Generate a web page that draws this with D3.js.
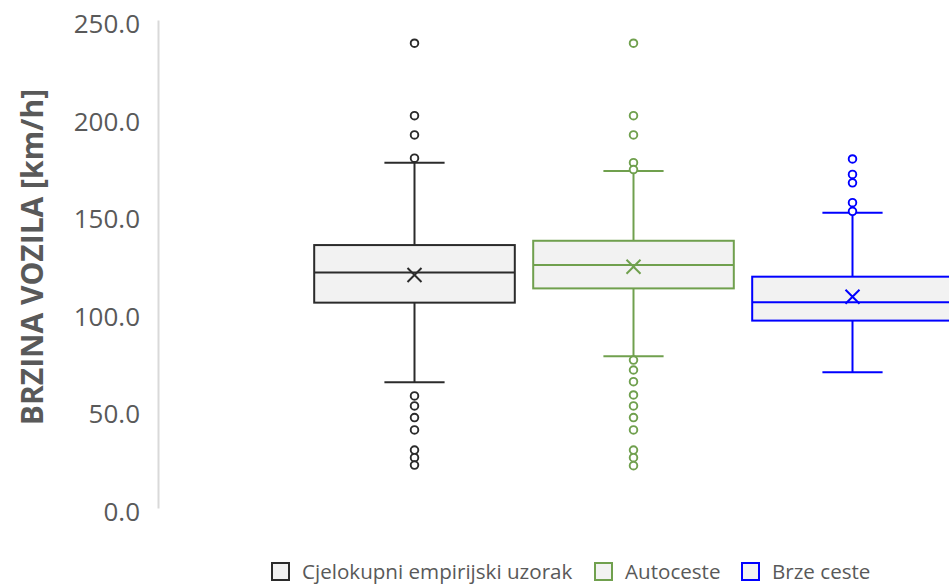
<!DOCTYPE html>
<html>
<head>
<meta charset="UTF-8">
<title>Brzina vozila - box plot</title>
<script src="https://d3js.org/d3.v7.min.js"></script>
<style>
  body { margin: 0; background: #fff; }
  svg { display: block; }
  text { font-family: "Open Sans", "Noto Sans", sans-serif; fill: #595959; }
</style>
</head>
<body>
<svg id="chart" width="949" height="584"></svg>
<script>
// data (km/h)
const series      = ["Cjelokupni empirijski uzorak", "Autoceste", "Brze ceste"];
const q1          = [105.2, 112.5, 96.0];
const median      = [120.7, 124.5, 105.4];
const q3          = [134.7, 136.9, 118.5];
const whiskerLow  = [64.4, 77.7, 69.5];
const whiskerHigh = [176.9, 172.6, 151.3];
const means       = [119.4, 123.6, 108.2];
const outliers    = [
  [238.1, 201.0, 191.1, 179.2, 57.4, 52.3, 46.3, 40.0, 29.7, 25.8, 22.0],
  [238.1, 201.0, 191.1, 176.9, 173.4, 75.8, 70.7, 64.7, 57.9, 52.3, 46.3, 40.0, 29.7, 25.8, 21.7],
  [178.8, 170.9, 166.6, 156.4, 152.0]
];
const yTicks = [0, 50, 100, 150, 200, 250];
const colors = ["#2b2b2b", "#70a04e", "#0000ff"];

const svg = d3.select('#chart');

const y = d3.scaleLinear().domain([0, 250]).range([508, 20]);
const x = d3.scaleBand().domain(series).range([305, 962]).paddingInner(0.084).paddingOuter(0.042);
const bw = x.bandwidth();

// y axis: light line, labels only
const yAxis = d3.axisLeft(y).tickValues(yTicks).tickFormat(d3.format('.1f')).tickSize(0).tickPadding(18);
const ax = svg.append('g').attr('transform', 'translate(158,0)').call(yAxis);
ax.select('.domain').attr('stroke', '#d9d9d9').attr('stroke-width', 2);
ax.selectAll('text').attr('font-size', 26).attr('fill', '#595959')
  .attr('font-family', '"Open Sans", "Noto Sans", sans-serif').attr('dy', '0.48em');

svg.append('text')
  .attr('transform', 'translate(32,257) rotate(-90)')
  .attr('text-anchor', 'middle').attr('dy', '0.35em')
  .attr('font-size', 30).attr('font-weight', 'bold')
  .text('BRZINA VOZILA [km/h]');

// boxes
const boxes = svg.selectAll('g.box').data(series).enter().append('g').attr('class', 'box');
boxes.each(function(name, i){
  const g = d3.select(this), c = colors[i];
  const x0 = x(name), cx = x0 + bw/2, cap = bw*0.3;
  // whiskers
  g.append('line').attr('x1', cx).attr('x2', cx).attr('y1', y(q3[i])).attr('y2', y(whiskerHigh[i]))
    .attr('stroke', c).attr('stroke-width', 2);
  g.append('line').attr('x1', cx).attr('x2', cx).attr('y1', y(q1[i])).attr('y2', y(whiskerLow[i]))
    .attr('stroke', c).attr('stroke-width', 2);
  [whiskerHigh[i], whiskerLow[i]].forEach(v => {
    g.append('line').attr('x1', cx - cap/2).attr('x2', cx + cap/2).attr('y1', y(v)).attr('y2', y(v))
      .attr('stroke', c).attr('stroke-width', 2);
  });
  // box
  g.append('rect').attr('x', x0).attr('y', y(q3[i])).attr('width', bw).attr('height', y(q1[i]) - y(q3[i]))
    .attr('fill', '#f2f2f2').attr('stroke', c).attr('stroke-width', 2);
  g.append('line').attr('x1', x0).attr('x2', x0 + bw).attr('y1', y(median[i])).attr('y2', y(median[i]))
    .attr('stroke', c).attr('stroke-width', 2);
  // mean marker
  const my = y(means[i]), s = 7;
  g.append('path').attr('d', `M${cx-s},${my-s}L${cx+s},${my+s}M${cx-s},${my+s}L${cx+s},${my-s}`)
    .attr('stroke', c).attr('stroke-width', 2).attr('fill', 'none');
  // outliers
  g.selectAll('circle').data(outliers[i]).enter().append('circle')
    .attr('cx', cx).attr('cy', d => y(d)).attr('r', 3.8)
    .attr('fill', '#fff').attr('stroke', c).attr('stroke-width', 1.9);
});

// legend
const legendX = [272, 595, 742];
const lg = svg.selectAll('g.legend').data(series).enter().append('g').attr('class', 'legend')
  .attr('transform', (d, i) => `translate(${legendX[i]},563)`);
lg.append('rect').attr('width', 17).attr('height', 17)
  .attr('fill', '#f2f2f2').attr('stroke', (d, i) => colors[i]).attr('stroke-width', 2);
lg.append('text').attr('x', 30).attr('y', 9).attr('dy', '0.35em').attr('font-size', 20.6).text(d => d);
</script>
</body>
</html>
